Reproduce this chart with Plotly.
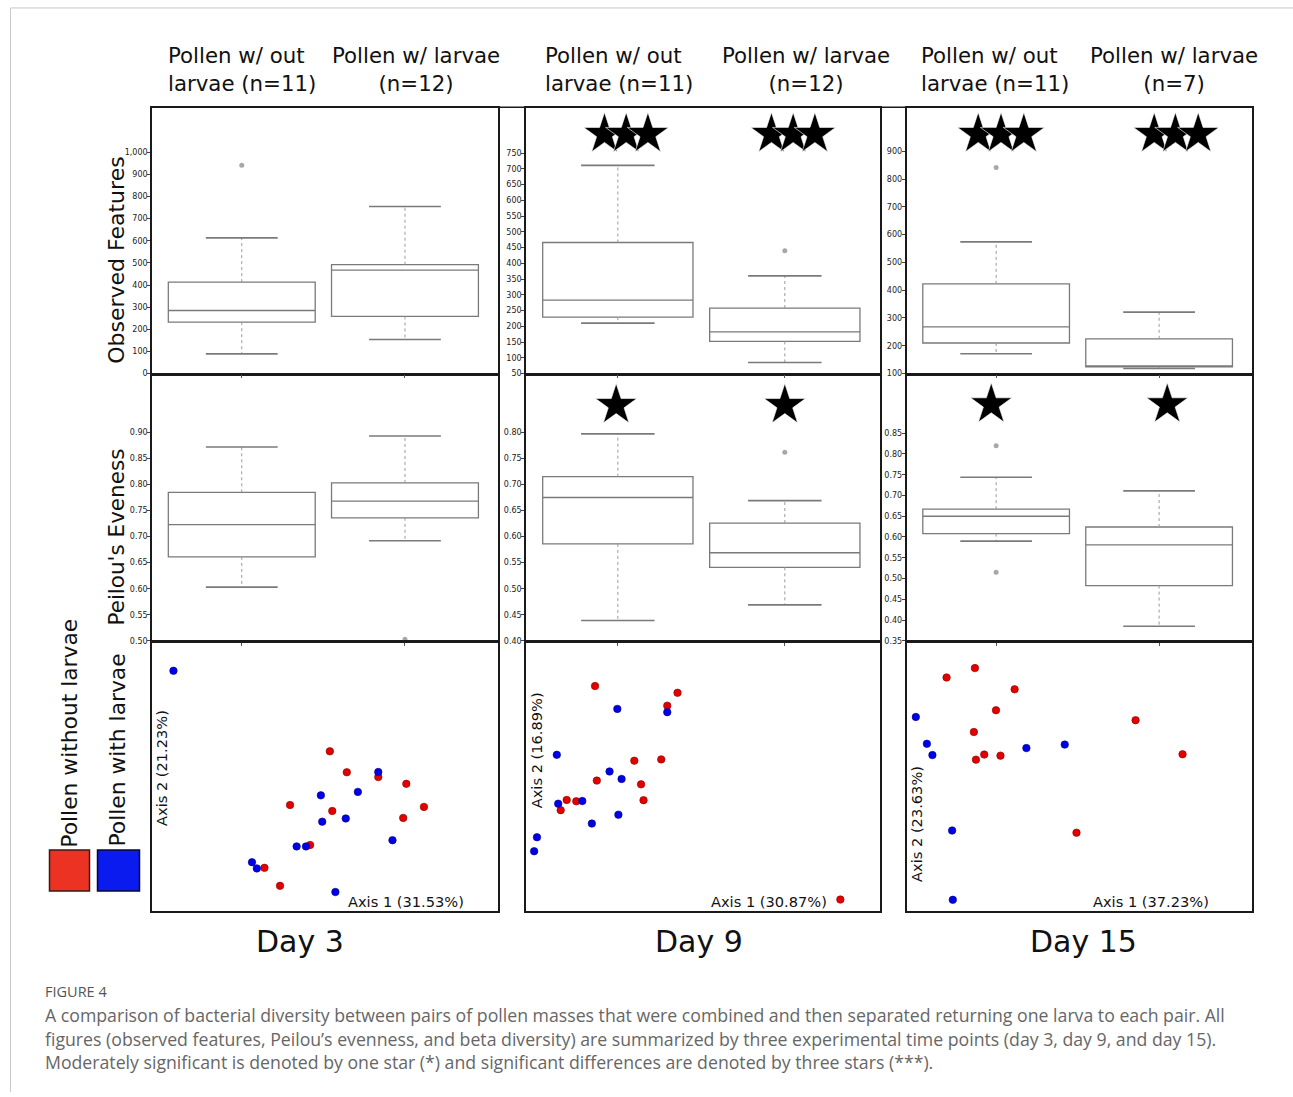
import plotly.graph_objects as go

W, H = 1293, 1097

# ------------------------------------------------------------------ data
days = ["Day 3", "Day 9", "Day 15"]
group_without = ["Pollen w/ out<br>larvae (n=11)", "Pollen w/ out<br>larvae (n=11)", "Pollen w/ out<br>larvae (n=11)"]
group_with = ["Pollen w/ larvae<br>(n=12)", "Pollen w/ larvae<br>(n=12)", "Pollen w/ larvae<br>(n=7)"]
legend_labels = ["Pollen without larvae", "Pollen with larvae"]

# Observed features, per day: [without larvae, with larvae]
obs_lower = [[89, 154], [210, 85], [171, 118]]
obs_q1 = [[232, 258], [229, 152], [210, 124]]
obs_median = [[285, 467], [283, 182], [268, 127]]
obs_q3 = [[413, 492], [466, 258], [423, 225]]
obs_upper = [[613, 755], [711, 360], [574, 321]]
obs_outliers = [[[941], []], [[], [440]], [[842], []]]

# Pielou's evenness, per day: [without larvae, with larvae]
even_lower = [[0.603, 0.692], [0.439, 0.469], [0.590, 0.385]]
even_q1 = [[0.661, 0.736], [0.586, 0.541], [0.608, 0.483]]
even_median = [[0.723, 0.768], [0.675, 0.569], [0.650, 0.581]]
even_q3 = [[0.785, 0.803], [0.715, 0.626], [0.667, 0.624]]
even_upper = [[0.872, 0.893], [0.797, 0.669], [0.744, 0.711]]
even_outliers = [[[], [0.503]], [[], [0.762]], [[0.820, 0.515], []]]

# significance stars (x offsets from box centre, y value) per day, per box
obs_star_x = [[[], []], [[-0.08, 0.05, 0.18], [-0.08, 0.05, 0.18]], [[-0.11, 0.03, 0.17], [-0.03, 0.10, 0.24]]]
obs_star_y = [None, 810, 962]
even_star_x = [[[], []], [[-0.01], [0.0]], [[-0.03], [0.05]]]
even_star_y = [None, 0.852, 0.919]

# axis ranges / ticks
obs_range = [[0, 1200], [50, 893], [100, 1056]]
obs_tickvals = [[0, 100, 200, 300, 400, 500, 600, 700, 800, 900, 1000],
                [50, 100, 150, 200, 250, 300, 350, 400, 450, 500, 550, 600, 650, 700, 750],
                [100, 200, 300, 400, 500, 600, 700, 800, 900]]
obs_ticktext = [["0", "100", "200", "300", "400", "500", "600", "700", "800", "900", "1,000"],
                ["50", "100", "150", "200", "250", "300", "350", "400", "450", "500", "550", "600", "650", "700", "750"],
                ["100", "200", "300", "400", "500", "600", "700", "800", "900"]]
even_range = [[0.50, 1.01], [0.40, 0.91], [0.35, 0.99]]
even_tickvals = [[0.50, 0.55, 0.60, 0.65, 0.70, 0.75, 0.80, 0.85, 0.90],
                 [0.40, 0.45, 0.50, 0.55, 0.60, 0.65, 0.70, 0.75, 0.80],
                 [0.35, 0.40, 0.45, 0.50, 0.55, 0.60, 0.65, 0.70, 0.75, 0.80, 0.85]]

# PCoA (beta diversity) positions, in percent of the panel extent
pc_axis1 = ["Axis 1 (31.53%)", "Axis 1 (30.87%)", "Axis 1 (37.23%)"]
pc_axis2 = ["Axis 2 (21.23%)", "Axis 2 (16.89%)", "Axis 2 (23.63%)"]
pc_red_x = [[51.4, 56.3, 65.4, 73.5, 78.6, 72.6, 52.1, 39.9, 45.7, 32.5, 37.0],
            [19.5, 42.8, 39.9, 30.6, 38.2, 20.0, 32.5, 33.2, 11.5, 14.2, 9.8, 88.8],
            [19.8, 11.6, 31.3, 25.9, 19.5, 22.5, 20.1, 27.2, 66.3, 79.9, 49.2]]
pc_red_y = [[59.4, 51.6, 49.8, 47.3, 38.7, 34.6, 37.2, 39.4, 24.5, 16.0, 9.3],
            [83.7, 81.2, 76.4, 55.9, 56.4, 48.5, 47.1, 41.2, 41.3, 40.8, 37.5, 4.2],
            [90.4, 86.9, 82.5, 74.7, 66.6, 58.2, 56.3, 57.8, 71.0, 58.3, 29.1]]
pc_blue_x = [[6.2, 28.9, 30.3, 41.8, 44.5, 48.8, 49.2, 56.0, 59.5, 65.4, 69.5, 53.0],
             [25.8, 39.9, 8.7, 23.6, 27.0, 9.1, 15.9, 18.6, 26.1, 3.1, 2.3],
             [2.7, 5.9, 7.5, 34.7, 45.8, 13.2, 13.4]]
pc_blue_y = [[89.4, 18.1, 15.8, 24.0, 24.0, 43.0, 33.2, 34.4, 44.3, 51.7, 26.3, 7.0],
             [75.2, 74.0, 58.1, 51.9, 49.1, 39.9, 40.9, 32.5, 35.8, 27.4, 22.2],
             [72.2, 62.2, 58.0, 60.6, 61.9, 29.9, 4.1]]

caption_title = "FIGURE 4"
caption_lines = [
    "A comparison of bacterial diversity between pairs of pollen masses that were combined and then separated returning one larva to each pair. All",
    "figures (observed features, Peilou\u2019s evenness, and beta diversity) are summarized by three experimental time points (day 3, day 9, and day 15).",
    "Moderately significant is denoted by one star (*) and significant differences are denoted by three stars (***).",
]

# ------------------------------------------------------------------ layout helpers
def px(x):
    return x / W


def py(y):
    return 1 - y / H


FONT = "DejaVu Sans"
RED = "#e30000"
BLUE = "#0000e6"
LW = 1.5
col_x = [(152, 498), (526, 880), (906.5, 1252)]
row_y = [(108.5, 376), (376, 644.5), (644.5, 915)]
box_pos = [0, 1]
box_w = 0.9
cap_half = 0.22
xr_box = [-0.55, 1.57]

fig = go.Figure()
layout_axes = {}


def ax_name(k, kind):
    return f"{kind}axis" if k == 1 else f"{kind}axis{k}"


def ref(k, kind):
    return kind if k == 1 else f"{kind}{k}"


def row_domain(r):
    top, bot = row_y[r]
    if r > 0:
        top += LW / 2
    if r < 2:
        bot -= LW / 2
    return [py(bot), py(top)]


def add_box_panel(k, lower, q1, med, q3, upper, outliers, star_x, star_y, yrange, tickvals, ticktext, tickfmt):
    xr, yr = ref(k, "x"), ref(k, "y")
    for i, p in enumerate(box_pos):
        fig.add_trace(go.Scatter(x=[p, p, None, p, p], y=[q3[i], upper[i], None, q1[i], lower[i]],
                                 mode="lines", line=dict(color="#9a9a9a", width=1, dash="dot"),
                                 xaxis=xr, yaxis=yr, showlegend=False, hoverinfo="skip"))
        fig.add_trace(go.Scatter(x=[p - cap_half, p + cap_half, None, p - cap_half, p + cap_half],
                                 y=[upper[i], upper[i], None, lower[i], lower[i]],
                                 mode="lines", line=dict(color="#7a7a7a", width=1.6),
                                 xaxis=xr, yaxis=yr, showlegend=False, hoverinfo="skip"))
    fig.add_trace(go.Box(x=box_pos, q1=q1, median=med, q3=q3, lowerfence=q1, upperfence=q3,
                         width=box_w, whiskerwidth=0, boxpoints=False, fillcolor="white",
                         line=dict(color="#7a7a7a", width=1.3), xaxis=xr, yaxis=yr,
                         showlegend=False, hoverinfo="skip"))
    ox, oy = [], []
    for i, p in enumerate(box_pos):
        for v in outliers[i]:
            ox.append(p)
            oy.append(v)
    if ox:
        fig.add_trace(go.Scatter(x=ox, y=oy, mode="markers", marker=dict(color="#a8a8a8", size=5),
                                 xaxis=xr, yaxis=yr, showlegend=False, hoverinfo="skip"))
    sx, sy = [], []
    if star_y is not None:
        for i, p in enumerate(box_pos):
            for off in star_x[i]:
                sx.append(p + off)
                sy.append(star_y)
    if sx:
        fig.add_trace(go.Scatter(x=sx, y=sy, mode="markers",
                                 marker=dict(symbol="star", size=31, color="black",
                                             line=dict(color="white", width=0.6)),
                                 xaxis=xr, yaxis=yr, showlegend=False, hoverinfo="skip"))
    layout_axes[ax_name(k, "x")] = dict(range=xr_box, tickvals=box_pos, ticks="outside", ticklen=3,
                                        tickcolor="#555", showticklabels=False)
    layout_axes[ax_name(k, "y")] = dict(range=yrange, tickvals=tickvals, ticktext=ticktext, tickformat=tickfmt,
                                        ticks="outside", ticklen=3, tickcolor="#444", ticklabelstandoff=-2,
                                        tickfont=dict(size=8, color="#222", family=FONT))


k = 1
for c in range(3):
    add_box_panel(k, obs_lower[c], obs_q1[c], obs_median[c], obs_q3[c], obs_upper[c], obs_outliers[c],
                  obs_star_x[c], obs_star_y[c], obs_range[c], obs_tickvals[c], obs_ticktext[c], None)
    layout_axes[ax_name(k, "x")]["domain"] = [px(col_x[c][0]), px(col_x[c][1])]
    layout_axes[ax_name(k, "y")]["domain"] = row_domain(0)
    k += 1
    add_box_panel(k, even_lower[c], even_q1[c], even_median[c], even_q3[c], even_upper[c], even_outliers[c],
                  even_star_x[c], even_star_y[c], even_range[c], even_tickvals[c], None, ".2f")
    layout_axes[ax_name(k, "x")]["domain"] = [px(col_x[c][0]), px(col_x[c][1])]
    layout_axes[ax_name(k, "y")]["domain"] = row_domain(1)
    k += 1
    xr, yr = ref(k, "x"), ref(k, "y")
    fig.add_trace(go.Scatter(x=pc_red_x[c], y=pc_red_y[c], mode="markers",
                             marker=dict(color=RED, size=7.5, line=dict(color="#8a0000", width=0.6)),
                             xaxis=xr, yaxis=yr, showlegend=False, hoverinfo="skip"))
    fig.add_trace(go.Scatter(x=pc_blue_x[c], y=pc_blue_y[c], mode="markers",
                             marker=dict(color=BLUE, size=7.5, line=dict(color="#00008a", width=0.6)),
                             xaxis=xr, yaxis=yr, showlegend=False, hoverinfo="skip"))
    layout_axes[ax_name(k, "x")] = dict(range=[0, 100], showticklabels=False, ticks="",
                                        domain=[px(col_x[c][0]), px(col_x[c][1])])
    layout_axes[ax_name(k, "y")] = dict(range=[0, 100], showticklabels=False, ticks="",
                                        domain=row_domain(2))
    k += 1

for name, a in layout_axes.items():
    a.update(showline=True, mirror=True, linecolor="#1a1a1a", linewidth=LW, showgrid=False,
             zeroline=False, fixedrange=True)
    if name.startswith("x"):
        a["anchor"] = "y" + name[5:]
    else:
        a["anchor"] = "x" + name[5:]

ann = []
hdr_without_x = [166, 543, 919]
hdr_with_x = [416, 805.5, 1173.5]
for c in range(3):
    ann.append(dict(x=px(hdr_without_x[c]), y=py(70), text=group_without[c], xanchor="left", yanchor="middle",
                    align="left", font=dict(size=21.3, color="#111", family=FONT)))
    ann.append(dict(x=px(hdr_with_x[c]), y=py(70), text=group_with[c], xanchor="center", yanchor="middle",
                    align="center", font=dict(size=21.3, color="#111", family=FONT)))
day_x = [300, 699, 1083]
for c in range(3):
    ann.append(dict(x=px(day_x[c]), y=py(946), text=days[c], xanchor="center", yanchor="middle",
                    font=dict(size=30, color="#111", family=FONT)))
ann.append(dict(x=px(117), y=py(262), text="Observed Features", textangle=-90, xanchor="center",
                yanchor="middle", font=dict(size=22, color="#111", family=FONT)))
ann.append(dict(x=px(117), y=py(540), text="Peilou's Eveness", textangle=-90, xanchor="center",
                yanchor="middle", font=dict(size=21.5, color="#111", family=FONT)))
ann.append(dict(x=px(70), y=py(737), text=legend_labels[0], textangle=-90, xanchor="center",
                yanchor="middle", font=dict(size=21.8, color="#111", family=FONT)))
ann.append(dict(x=px(118), y=py(754), text=legend_labels[1], textangle=-90, xanchor="center",
                yanchor="middle", font=dict(size=21.8, color="#111", family=FONT)))
ax2_pos = [(161.5, 772), (536.7, 754), (916.7, 828)]
ax1_pos = [(406, 906), (769, 906), (1150.5, 906)]
for c in range(3):
    ann.append(dict(x=px(ax2_pos[c][0]), y=py(ax2_pos[c][1]), text=pc_axis2[c], textangle=-90,
                    xanchor="center", yanchor="middle", font=dict(size=14.6, color="#111", family=FONT)))
    ann.append(dict(x=px(ax1_pos[c][0]), y=py(ax1_pos[c][1]), text=pc_axis1[c],
                    xanchor="center", yanchor="middle", font=dict(size=14.6, color="#111", family=FONT)))
ann.append(dict(x=px(43), y=py(996), text=caption_title, xanchor="left", yanchor="middle",
                font=dict(size=14.5, color="#555", family="Open Sans")))
cap_y = [1020, 1044, 1067]
for i, line in enumerate(caption_lines):
    ann.append(dict(x=px(43), y=py(cap_y[i]), text=line, xanchor="left", yanchor="middle",
                    font=dict(size=17.7, color="#666", family="Open Sans")))
for a in ann:
    a.update(xref="paper", yref="paper", showarrow=False)

shapes = [
    dict(type="line", x0=px(10.5), x1=px(10.5), y0=py(8), y1=py(1097), line=dict(color="#c8c8c8", width=1)),
    dict(type="line", x0=px(10.5), x1=px(1293), y0=py(8), y1=py(8), line=dict(color="#c8c8c8", width=1)),
    dict(type="line", x0=px(152), x1=px(1252), y0=py(108.5 - LW / 2), y1=py(108.5 - LW / 2),
         line=dict(color="#1a1a1a", width=LW)),
    dict(type="rect", x0=px(49.5), x1=px(89.5), y0=py(895), y1=py(854), fillcolor="#ec3222",
         line=dict(color="#3a1a10", width=1.5)),
    dict(type="rect", x0=px(97.5), x1=px(139.5), y0=py(895), y1=py(854), fillcolor="#0a1bf0",
         line=dict(color="#0a0a30", width=1.5)),
]
for s in shapes:
    s.update(xref="paper", yref="paper")

fig.update_layout(width=W, height=H, autosize=False, margin=dict(l=0, r=0, t=0, b=0),
                  paper_bgcolor="white", plot_bgcolor="white", annotations=ann, shapes=shapes,
                  font=dict(family=FONT, color="#111"), **layout_axes)

fig.write_html("out.html", config={"displayModeBar": False},
               post_script="document.body.style.margin='0px';document.body.style.overflow='hidden';")
